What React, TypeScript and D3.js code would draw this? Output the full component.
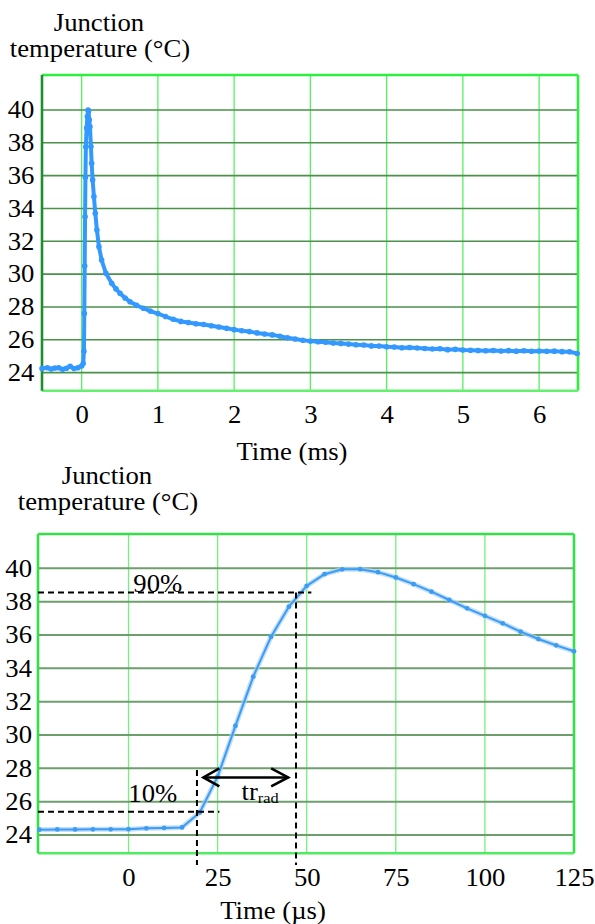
import React, { useEffect, useRef } from 'react';
import * as d3 from 'd3';

// upper panel: whole pulse, time in ms
const msTime = [
  -0.52, -0.45, -0.4, -0.35, -0.3, -0.25, -0.2, -0.15, -0.1, -0.05, 0.0, 0.02,
  0.03, 0.035, 0.04, 0.045, 0.05, 0.055, 0.065, 0.075, 0.085, 0.09,
  0.1, 0.109, 0.122, 0.131, 0.144, 0.161, 0.179, 0.2, 0.227, 0.262, 0.319, 0.394, 0.45,
  0.503, 0.57, 0.634, 0.72, 0.81, 0.9, 1.0, 1.1, 1.2, 1.3, 1.4, 1.5, 1.6, 1.7, 1.8, 1.9,
  2.0, 2.1, 2.2, 2.3, 2.4, 2.5, 2.6, 2.7, 2.8, 2.9, 3.0, 3.1, 3.2, 3.3, 3.4, 3.5, 3.6,
  3.7, 3.8, 3.9, 4.0, 4.1, 4.2, 4.3, 4.4, 4.5, 4.6, 4.7, 4.8, 4.9, 5.0, 5.1, 5.2, 5.3,
  5.4, 5.5, 5.6, 5.7, 5.8, 5.9, 6.0, 6.1, 6.2, 6.3, 6.4, 6.5,
];
const msTemp = [
  24.25, 24.3, 24.22, 24.28, 24.3, 24.2, 24.27, 24.38, 24.25, 24.3, 24.4, 24.55,
  25.3, 27.6, 30.5, 33.5, 35.9, 37.75, 38.9, 39.6, 40.0, 39.9,
  39.4, 38.98, 37.77, 36.75, 35.74, 34.72, 33.71, 32.69, 31.67, 30.86, 30.05, 29.44, 29.1,
  28.83, 28.55, 28.32, 28.1, 27.92, 27.75, 27.6, 27.42, 27.25, 27.12, 27.05, 26.98, 26.93, 26.86, 26.78, 26.7,
  26.62, 26.55, 26.5, 26.42, 26.35, 26.3, 26.22, 26.12, 26.05, 25.97, 25.92, 25.88, 25.85, 25.8, 25.78, 25.74, 25.7,
  25.68, 25.63, 25.62, 25.58, 25.56, 25.52, 25.53, 25.5, 25.47, 25.44, 25.45, 25.4, 25.42, 25.38, 25.36, 25.35, 25.33,
  25.35, 25.32, 25.34, 25.31, 25.33, 25.3, 25.32, 25.3, 25.31, 25.28, 25.27, 25.17,
];
const msTicks = [0, 1, 2, 3, 4, 5, 6];

// lower panel: rising edge, time in µs
const usTime = [
  -25, -20, -15, -10, -5, 0, 5, 10, 15, 20, 25, 30, 35, 40, 45, 50, 55, 60, 65, 70,
  75, 80, 85, 90, 95, 100, 105, 110, 115, 120, 125,
];
const usTemp = [
  24.32, 24.33, 24.33, 24.34, 24.34, 24.35, 24.4, 24.42, 24.45, 25.35, 27.5, 30.55, 33.5, 35.9, 37.7, 38.95, 39.65, 39.94, 39.95, 39.77,
  39.45, 39.05, 38.6, 38.1, 37.6, 37.15, 36.7, 36.2, 35.76, 35.38, 35.02,
];
const usTicks = [0, 25, 50, 75, 100, 125];

const tempTicks = [24, 26, 28, 30, 32, 34, 36, 38, 40];

// 10% / 90% levels of the rise
const levelNames = ['10%', '90%'];
const levelTemp = [25.4, 38.55];
const levelTime = [19.2, 47];
const levelLineEnd = [25.5, 51.3];
const levelDropTop = [27.9, 38.55];
const levelTextTime = [6.8, 8.2];
const levelTextTemp = [26.0, 38.55];
const dropBottom = 22.2;

const riseFrom = 21;
const riseTo = 44.8;
const riseTemp = 27.45;
const riseTextTime = 31.7;
const riseTextTemp = 26.1;

const FONT = '"Liberation Serif", "Times New Roman", serif';
const FS = 24.5;
const SX = 1.09;

const label = (g, x, y, txt, anchor = 'middle') =>
  g.append('text')
    .attr('transform', `translate(${x},${y}) scale(${SX},1)`)
    .attr('text-anchor', anchor)
    .attr('font-family', FONT)
    .attr('font-size', FS)
    .attr('fill', '#000')
    .text(txt);

function drawPanel(svg, p) {
  const x = d3.scaleLinear().domain(p.xDomain).range([p.left, p.right]);
  const y = d3.scaleLinear().domain(p.yDomain).range([p.bottom, p.top]);
  const g = svg.append('g');

  g.append('g').selectAll('line').data(p.xTicks.filter(d => x(d) < p.right - 3)).join('line')
    .attr('x1', d => x(d)).attr('x2', d => x(d))
    .attr('y1', p.top).attr('y2', p.bottom)
    .attr('stroke', p.vGrid).attr('stroke-width', 1.3);

  g.append('g').selectAll('line').data(tempTicks).join('line')
    .attr('x1', p.left).attr('x2', p.right)
    .attr('y1', d => y(d)).attr('y2', d => y(d))
    .attr('stroke', p.hGrid).attr('stroke-width', p.hWidth);

  // frame
  const frame = [
    [p.left, p.top, p.right, p.top, p.frameTop],
    [p.right, p.top, p.right, p.bottom, p.frameTop],
    [p.left, p.bottom, p.right, p.bottom, p.frameBottom],
    [p.left, p.top, p.left, p.bottom, p.frameLeft],
  ];
  g.append('g').selectAll('line').data(frame).join('line')
    .attr('x1', d => d[0]).attr('y1', d => d[1]).attr('x2', d => d[2]).attr('y2', d => d[3])
    .attr('stroke', d => d[4]).attr('stroke-width', 2.6);

  const pts = p.time.map((t, i) => [t, p.temp[i]]);
  const line = d3.line().x(d => x(d[0])).y(d => y(d[1]));

  if (p.halo) {
    g.append('path').attr('d', line(pts)).attr('fill', 'none')
      .attr('stroke', '#a8d0fa').attr('stroke-width', 5).attr('opacity', 0.7);
  }
  g.append('path').attr('d', line(pts)).attr('fill', 'none')
    .attr('stroke', p.lineColor).attr('stroke-width', p.lineWidth).attr('stroke-linejoin', 'round');
  g.append('g').selectAll('circle').data(pts).join('circle')
    .attr('cx', d => x(d[0])).attr('cy', d => y(d[1])).attr('r', p.dot)
    .attr('fill', p.lineColor);

  // axes: labels only, grid is drawn above
  const ax = g.append('g').attr('transform', `translate(0,${p.bottom})`)
    .call(d3.axisBottom(x).tickValues(p.xTicks).tickSize(0).tickPadding(p.xPad).tickFormat(d3.format('d')));
  ax.select('.domain').remove();
  ax.selectAll('text').attr('font-family', FONT).attr('font-size', FS).attr('fill', '#000')
    .attr('transform', `scale(${SX},1)`);
  ax.attr('font-size', FS);

  const ay = g.append('g').attr('transform', `translate(${p.left},0)`)
    .call(d3.axisLeft(y).tickValues(tempTicks).tickSize(0).tickPadding(p.yPad));
  ay.select('.domain').remove();
  ay.selectAll('text').attr('font-family', FONT).attr('font-size', FS).attr('fill', '#000')
    .attr('transform', `scale(${SX},1)`);
  ay.attr('font-size', FS);

  label(g, p.titleX, p.titleY, 'Junction');
  label(g, p.titleX + 1, p.titleY + 26, 'temperature (°C)');
  label(g, p.xTitleX, p.xTitleY, p.xTitle);

  return { x, y, g };
}

const App = () => {
  const svgRef = useRef(null);

  useEffect(() => {
    const svg = d3.select(svgRef.current);
    svg.selectAll('*').remove();

    drawPanel(svg, {
      time: msTime, temp: msTemp, xTicks: msTicks,
      xDomain: [-0.52, 6.51], yDomain: [22.9, 42.13],
      left: 42, right: 578, top: 75, bottom: 390.7,
      vGrid: '#55f060', hGrid: '#4a914a', hWidth: 1.6,
      frameTop: '#2cf040', frameBottom: '#66f070', frameLeft: '#1e8f2e',
      lineColor: '#3399ff', lineWidth: 4, dot: 2.8, halo: false,
      xPad: 15, yPad: 7,
      titleX: 99, titleY: 31, xTitle: 'Time (ms)', xTitleX: 292, xTitleY: 460,
    });

    const { x, y, g } = drawPanel(svg, {
      time: usTime, temp: usTemp, xTicks: usTicks,
      xDomain: [-25.4, 125], yDomain: [22.9, 42.06],
      left: 38, right: 574, top: 534, bottom: 853.3,
      vGrid: '#74f07c', hGrid: '#6c9f6c', hWidth: 2,
      frameTop: '#34e048', frameBottom: '#50ec60', frameLeft: '#34e048',
      lineColor: '#3b9cf2', lineWidth: 2, dot: 2.4, halo: true,
      xPad: 15.5, yPad: 5.5,
      titleX: 107, titleY: 484, xTitle: 'Time (µs)', xTitleX: 273, xTitleY: 919,
    });

    // 10% / 90% construction lines
    const ann = g.append('g').attr('stroke', '#000').attr('stroke-width', 2)
      .attr('stroke-dasharray', '6,4').attr('fill', 'none');
    levelNames.forEach((name, i) => {
      ann.append('line')
        .attr('x1', x(-25.4)).attr('x2', x(levelLineEnd[i]))
        .attr('y1', y(levelTemp[i])).attr('y2', y(levelTemp[i]));
      ann.append('line')
        .attr('x1', x(levelTime[i])).attr('x2', x(levelTime[i]))
        .attr('y1', y(levelDropTop[i])).attr('y2', y(dropBottom));
      label(g, x(levelTextTime[i]), y(levelTextTemp[i]), name);
    });

    // rise time arrow
    const ay = y(riseTemp);
    const x0 = x(riseFrom);
    const x1 = x(riseTo);
    const arrow = g.append('g').attr('stroke', '#000').attr('stroke-width', 2.6).attr('fill', 'none');
    arrow.append('line').attr('x1', x0).attr('x2', x1).attr('y1', ay).attr('y2', ay);
    arrow.append('polyline').attr('points', `${x0 + 16},${ay - 9} ${x0},${ay} ${x0 + 16},${ay + 9}`);
    arrow.append('polyline').attr('points', `${x1 - 17},${ay - 9} ${x1},${ay} ${x1 - 17},${ay + 9}`);

    const tr = g.append('text')
      .attr('transform', `translate(${x(riseTextTime)},${y(riseTextTemp)}) scale(${SX},1)`)
      .attr('font-family', FONT).attr('font-size', FS);
    tr.append('tspan').text('tr');
    tr.append('tspan').attr('font-size', 15).attr('dy', 3).text('rad');
  }, []);

  return (
    <svg
      ref={svgRef}
      width={595}
      height={924}
      style={{ position: 'absolute', left: 0, top: 0, background: '#fff' }}
    />
  );
};

export default App;
